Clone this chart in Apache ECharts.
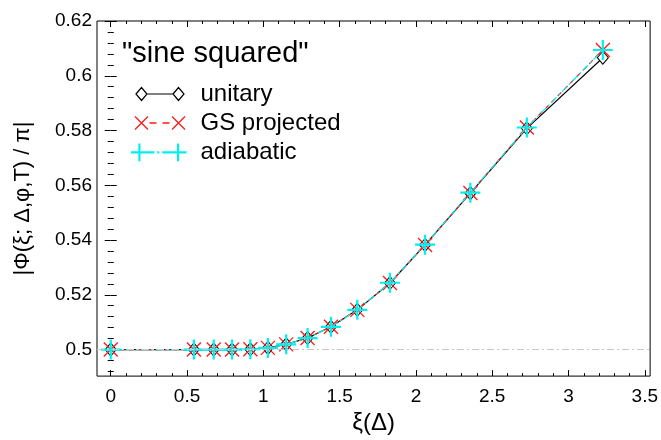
<!DOCTYPE html>
<html lang="en">
<head>
    <meta charset="UTF-8">
    <title>sine squared</title>
    <script src="https://cdn.jsdelivr.net/npm/echarts@6.0.0/dist/echarts.min.js"></script>
</head>
<style>
html,body{margin:0;padding:0;background-color:#fff}
#chartBox{width:661px;height:440px}
</style>
<body>
    <div id="chartBox"></div>
</body>
<script>
// data
const xi = [0, 0.545, 0.675, 0.795, 0.915, 1.03, 1.15, 1.29, 1.443, 1.616, 1.83, 2.06, 2.357, 2.727, 3.225];
const unitary = [0.5, 0.5, 0.5, 0.5, 0.5001, 0.5006, 0.5019, 0.5042, 0.5083, 0.5145, 0.5243, 0.5382, 0.5571, 0.5808, 0.6066];
const gsProjected = [0.5, 0.5, 0.5, 0.5, 0.5001, 0.5006, 0.5019, 0.5042, 0.5083, 0.5145, 0.5243, 0.5382, 0.5572, 0.5811, 0.6094];
const adiabatic = [0.5, 0.5, 0.5, 0.5, 0.5001, 0.5006, 0.5019, 0.5042, 0.5083, 0.5145, 0.5244, 0.5383, 0.5573, 0.5811, 0.6094];
const xMajor = [0, 0.5, 1, 1.5, 2, 2.5, 3, 3.5];
const xMinor = [0.1, 0.2, 0.3, 0.4, 0.6, 0.7, 0.8, 0.9, 1.1, 1.2, 1.3, 1.4, 1.6, 1.7, 1.8, 1.9, 2.1, 2.2, 2.3, 2.4, 2.6, 2.7, 2.8, 2.9, 3.1, 3.2, 3.3, 3.4];
const yMajor = [0.5, 0.52, 0.54, 0.56, 0.58, 0.6, 0.62];
const yMinor = [0.492, 0.496, 0.504, 0.508, 0.512, 0.516, 0.524, 0.528, 0.532, 0.536, 0.544, 0.548, 0.552, 0.556, 0.564, 0.568, 0.572, 0.576, 0.584, 0.588, 0.592, 0.596, 0.604, 0.608, 0.612, 0.616];

const FONT = 'Liberation Sans';
const X_MIN = -0.09, X_MAX = 3.535, Y_MIN = 0.4903, Y_MAX = 0.62;

const crossX = 'path://M0,0L10,10M10,0L0,10';
const crossPlus = 'path://M5,0L5,10M0,5L10,5';

// legend icons: marker - line - marker, box 56x20 (first two moves pin the box)
const iconUnitary = 'path://M0,0M56,20M5.5,10L11,3.5L16.5,10L11,16.5ZM42.5,10L48,3.5L53.5,10L48,16.5ZM16.5,10L42.5,10';
const iconGS = 'path://M0,0M56,20M4.5,3.5L17.5,16.5M17.5,3.5L4.5,16.5M41.5,3.5L54.5,16.5M54.5,3.5L41.5,16.5M19,10L26,10M32,10L39,10';
const iconAdiabatic = 'path://M0,0M56,20M0.5,10L17.5,10M9,1L9,19M39.5,10L56.5,10M48,1L48,19M17.5,10L24,10M27,10L29,10M32,10L39.5,10';

function pairs(ys){
    return xi.map((x, i) => [x, ys[i]]);
}

// one axis per tick set (major / minor, both sides)
function xAxisDef(pos, ticks, len, labels){
    return {
        type: 'value', position: pos, min: X_MIN, max: X_MAX,
        axisLine: {show: false},
        splitLine: {show: false},
        axisTick: {show: true, inside: true, length: len, customValues: ticks, lineStyle: {color: '#000', width: 1}},
        axisLabel: labels ? {show: true, customValues: ticks, fontFamily: FONT, fontSize: 19, color: '#000', margin: 11,
            formatter: v => String(v)} : {show: false},
        name: labels ? 'ξ(Δ)' : '',
        nameLocation: 'middle',
        nameGap: 31,
        nameTextStyle: {fontFamily: FONT, fontSize: 24, color: '#000'}
    };
}
function yAxisDef(pos, ticks, len, labels){
    return {
        type: 'value', position: pos, min: Y_MIN, max: Y_MAX,
        axisLine: {show: false},
        splitLine: {show: false},
        axisTick: {show: true, inside: true, length: len, customValues: ticks, lineStyle: {color: '#000', width: 1}},
        axisLabel: labels ? {show: true, customValues: ticks, fontFamily: FONT, fontSize: 19, color: '#000', margin: 5,
            formatter: v => String(+v.toFixed(3))} : {show: false},
        name: labels ? '|Φ(ξ; Δ,φ,T) / π|' : '',
        nameLocation: 'middle',
        nameRotate: 90,
        nameGap: 63,
        nameTextStyle: {fontFamily: FONT, fontSize: 22, color: '#000'}
    };
}

function generateChartOption(){
    return {
        animation: false,
        backgroundColor: '#fff',
        title: {
            text: '"sine squared"',
            left: 117, top: 34,
            textStyle: {fontFamily: FONT, fontSize: 29, fontWeight: 'normal', color: '#000'}
        },
        grid: {
            left: 97, right: 9, top: 21, bottom: 50,
            show: true, borderColor: '#000', borderWidth: 1, backgroundColor: 'transparent'
        },
        xAxis: [
            xAxisDef('bottom', xMajor, 6, true),
            xAxisDef('bottom', xMinor, 3, false),
            xAxisDef('top', xMajor, 6, false),
            xAxisDef('top', xMinor, 3, false)
        ],
        yAxis: [
            yAxisDef('left', yMajor, 6, true),
            yAxisDef('left', yMinor, 3, false),
            yAxisDef('right', yMajor, 6, false),
            yAxisDef('right', yMinor, 3, false)
        ],
        legend: {
            left: 123, top: 77,
            orient: 'vertical',
            itemWidth: 56, itemHeight: 20, itemGap: 4.5,
            textStyle: {fontFamily: FONT, fontSize: 24, color: '#000', padding: [0, 0, 0, 9]},
            data: [
                {name: 'unitary', icon: iconUnitary, itemStyle: {color: '#fff', borderColor: '#000', borderWidth: 1.2}},
                {name: 'GS projected', icon: iconGS, itemStyle: {color: 'none', borderColor: '#ff1a1a', borderWidth: 1.3}},
                {name: 'adiabatic', icon: iconAdiabatic, itemStyle: {color: 'none', borderColor: '#00f0f0', borderWidth: 2.2}}
            ]
        },
        series: [
            {
                type: 'line', name: 'ref', z: 1, silent: true,
                data: [],
                markLine: {
                    silent: true, symbol: 'none', label: {show: false},
                    lineStyle: {color: '#c8c8c8', width: 1, type: [7, 3, 2, 3]},
                    data: [{yAxis: 0.5}]
                }
            },
            {
                type: 'line', name: 'unitary', z: 2,
                data: pairs(unitary),
                symbol: 'diamond', symbolSize: [11, 13],
                lineStyle: {color: '#000', width: 1.2},
                itemStyle: {color: '#fff', borderColor: '#000', borderWidth: 1}
            },
            {
                type: 'line', name: 'GS projected', z: 3,
                data: pairs(gsProjected),
                symbol: crossX, symbolSize: 14,
                lineStyle: {color: '#ff1a1a', width: 1.2, type: [5, 4]},
                itemStyle: {color: 'none', borderColor: '#ff1a1a', borderWidth: 1.3}
            },
            {
                type: 'line', name: 'adiabatic', z: 4,
                data: pairs(adiabatic),
                symbol: crossPlus, symbolSize: 20,
                lineStyle: {color: '#00f0f0', width: 1.2, type: [7, 3, 2, 3]},
                itemStyle: {color: 'none', borderColor: '#00f0f0', borderWidth: 2.2}
            }
        ]
    };
}

let chartObj = echarts.init(document.getElementById('chartBox'));
chartObj.setOption(generateChartOption());
</script>
</html>
